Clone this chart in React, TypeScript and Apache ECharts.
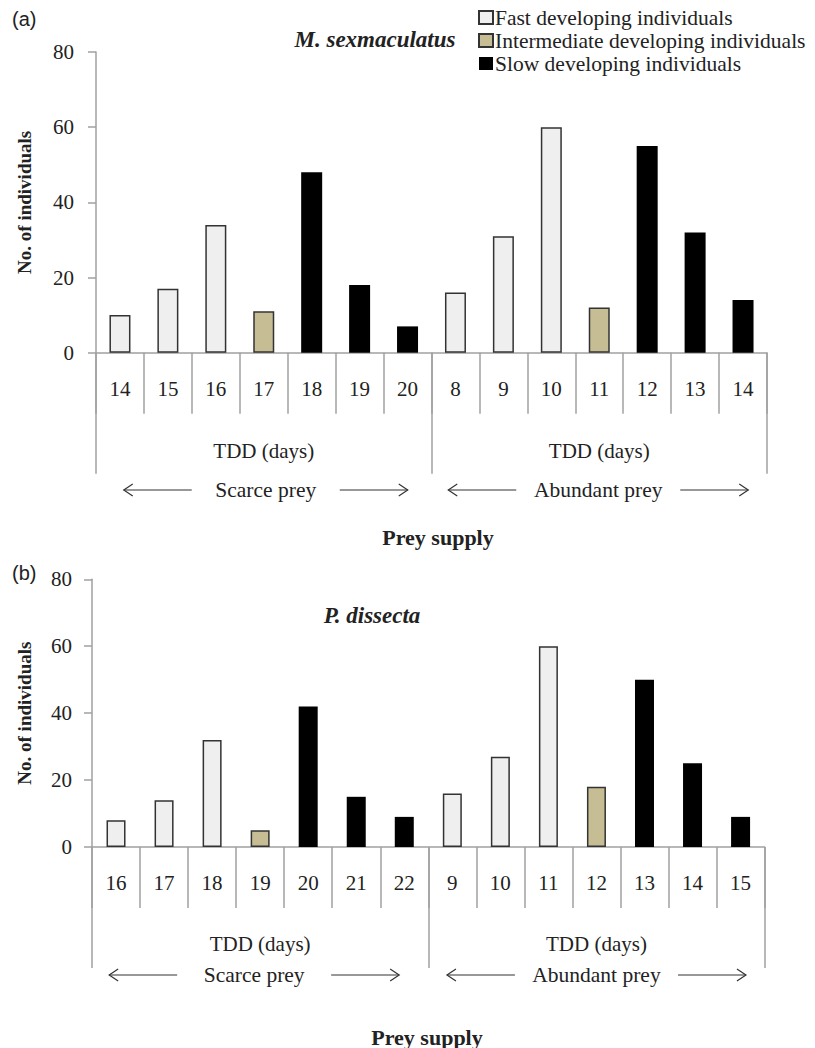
import React, { useEffect, useRef } from "react";
import * as echarts from "echarts";

// ---------- data ----------
const groups = ["Fast developing individuals", "Intermediate developing individuals", "Slow developing individuals"];
// which group each bar belongs to (0 fast, 1 intermediate, 2 slow)
const barGroup = [0, 0, 0, 1, 2, 2, 2, 0, 0, 0, 1, 2, 2, 2];

const catsA = ["14", "15", "16", "17", "18", "19", "20", "8", "9", "10", "11", "12", "13", "14"];
const valuesA = [10, 17, 34, 11, 48, 18, 7, 16, 31, 60, 12, 55, 32, 14];

const catsB = ["16", "17", "18", "19", "20", "21", "22", "9", "10", "11", "12", "13", "14", "15"];
const valuesB = [8, 14, 32, 5, 42, 15, 9, 16, 27, 60, 18, 50, 25, 9];

const supplyCats = ["TDD (days)", "TDD (days)"];
const supplyNames = ["Scarce prey", "Abundant prey"];
const yTicks = { min: 0, max: 80, interval: 20 };

// ---------- styles ----------
const SERIF = "Liberation Serif";
const TXT = "#222";
const AXIS = "#a0a0a0";
const groupStyles = [
  { color: "#efefef", borderColor: "#333", borderWidth: 1.5 },
  { color: "#c6bd95", borderColor: "#333", borderWidth: 1.5 },
  { color: "#000000", borderColor: "#000", borderWidth: 0 },
];

const GA = { left: 96, top: 52, width: 671, height: 300.7 };
const GB = { left: 92, top: 579.3, width: 672.6, height: 267.7 };

function arrowGroup(cx: number, cy: number, halfText: number, gap: number, label: string) {
  const len = 68;
  const ls = { stroke: "#333", lineWidth: 1.2 };
  const lx1 = cx - halfText - gap - len;
  const lx2 = cx - halfText - gap;
  const rx1 = cx + halfText + gap;
  const rx2 = cx + halfText + gap + len;
  return [
    { type: "line", shape: { x1: lx1, y1: cy, x2: lx2, y2: cy }, style: ls },
    { type: "polyline", shape: { points: [[lx1 + 9, cy - 6], [lx1, cy], [lx1 + 9, cy + 6]] }, style: { ...ls, fill: null } },
    { type: "line", shape: { x1: rx1, y1: cy, x2: rx2, y2: cy }, style: ls },
    { type: "polyline", shape: { points: [[rx2 - 9, cy - 6], [rx2, cy], [rx2 - 9, cy + 6]] }, style: { ...ls, fill: null } },
    {
      type: "text",
      x: cx,
      y: cy,
      style: { text: label, fontFamily: SERIF, fontSize: 21.5, fill: TXT, align: "center", verticalAlign: "middle" },
    },
  ];
}

function panelSeries(values: number[], xIdx: number, yIdx: number, stack: string, bw: number) {
  return groups.map((g, gi) => ({
    type: "bar",
    name: g,
    xAxisIndex: xIdx,
    yAxisIndex: yIdx,
    stack,
    barWidth: bw,
    itemStyle: groupStyles[gi],
    data: values.map((v, i) => (barGroup[i] === gi ? v : "-")),
  }));
}

function catAxis(gridIndex: number, data: string[], tickLen: number, margin: number, showLine: boolean) {
  return {
    type: "category",
    gridIndex,
    position: "bottom",
    data,
    axisLine: { show: showLine, lineStyle: { color: AXIS, width: 1.5 } },
    axisTick: { show: true, length: tickLen, interval: 0, lineStyle: { color: AXIS, width: 1.5 } },
    axisLabel: { interval: 0, margin, fontFamily: SERIF, fontSize: 21, color: TXT },
    splitLine: { show: false },
  };
}

function valAxis(gridIndex: number, margin: number, nameGap: number) {
  return {
    type: "value",
    gridIndex,
    ...yTicks,
    name: "No. of individuals",
    nameLocation: "middle",
    nameGap,
    nameTextStyle: { fontFamily: SERIF, fontSize: 19, fontWeight: "bold", color: TXT },
    axisLine: { show: true, lineStyle: { color: AXIS, width: 1.5 } },
    axisTick: { show: true, length: 8, lineStyle: { color: AXIS, width: 1.5 } },
    axisLabel: { margin, fontFamily: SERIF, fontSize: 21, color: TXT },
    splitLine: { show: false },
  };
}

export default function App() {
  const ref = useRef<HTMLDivElement>(null);
  useEffect(() => {
    if (!ref.current) return;
    const chart = echarts.init(ref.current, null, { renderer: "svg" });
    const aMidL = GA.left + GA.width / 4;
    const aMidR = GA.left + (GA.width * 3) / 4;
    const bMidL = GB.left + GB.width / 4;
    const bMidR = GB.left + (GB.width * 3) / 4;
    chart.setOption({
      animation: false,
      backgroundColor: "#ffffff",
      legend: {
        data: groups,
        orient: "vertical",
        left: 478,
        top: 6,
        padding: 0,
        icon: "rect",
        itemWidth: 14,
        itemHeight: 13,
        itemGap: 0,
        textStyle: { fontFamily: SERIF, fontSize: 21.5, color: TXT, lineHeight: 23, padding: [0, 0, 0, -3] },
      },
      title: [
        {
          text: "M. sexmaculatus",
          left: 375,
          top: 28,
          padding: 0,
          textAlign: "center",
          textStyle: { fontFamily: SERIF, fontSize: 23, fontWeight: "bold", fontStyle: "italic", color: TXT },
        },
        {
          text: "P. dissecta",
          left: 372,
          top: 604,
          padding: 0,
          textAlign: "center",
          textStyle: { fontFamily: SERIF, fontSize: 23, fontWeight: "bold", fontStyle: "italic", color: TXT },
        },
      ],
      grid: [
        { ...GA, containLabel: false },
        { ...GB, containLabel: false },
      ],
      xAxis: [
        catAxis(0, catsA, 61, 26, true),
        catAxis(0, supplyCats, 121, 88, false),
        catAxis(1, catsB, 61, 25, true),
        catAxis(1, supplyCats, 121, 86, false),
      ],
      yAxis: [valAxis(0, 22, 62), valAxis(1, 20, 58)],
      series: [...panelSeries(valuesA, 0, 0, "a", 21), ...panelSeries(valuesB, 2, 1, "b", 19)],
      graphic: [
        { type: "text", x: 12, y: 19, style: { text: "(a)", fontFamily: "Liberation Sans", fontSize: 20, fill: TXT, verticalAlign: "middle" } },
        { type: "text", x: 12, y: 573, style: { text: "(b)", fontFamily: "Liberation Sans", fontSize: 20, fill: TXT, verticalAlign: "middle" } },
        ...arrowGroup(aMidL + 2, 490, 54, 20, supplyNames[0]),
        ...arrowGroup(aMidR - 1, 490, 68, 14, supplyNames[1]),
        ...arrowGroup(bMidL - 6, 975, 54, 23, supplyNames[0]),
        ...arrowGroup(bMidR, 975, 68, 13.5, supplyNames[1]),
        { type: "text", x: 438, y: 537, style: { text: "Prey supply", fontFamily: SERIF, fontSize: 22, fontWeight: "bold", fill: TXT, align: "center", verticalAlign: "middle" } },
        { type: "text", x: 427, y: 1037, style: { text: "Prey supply", fontFamily: SERIF, fontSize: 22, fontWeight: "bold", fill: TXT, align: "center", verticalAlign: "middle" } },
      ],
    });
    return () => chart.dispose();
  }, []);
  return <div ref={ref} style={{ position: "absolute", left: 0, top: 0, width: 815, height: 1048 }} />;
}
